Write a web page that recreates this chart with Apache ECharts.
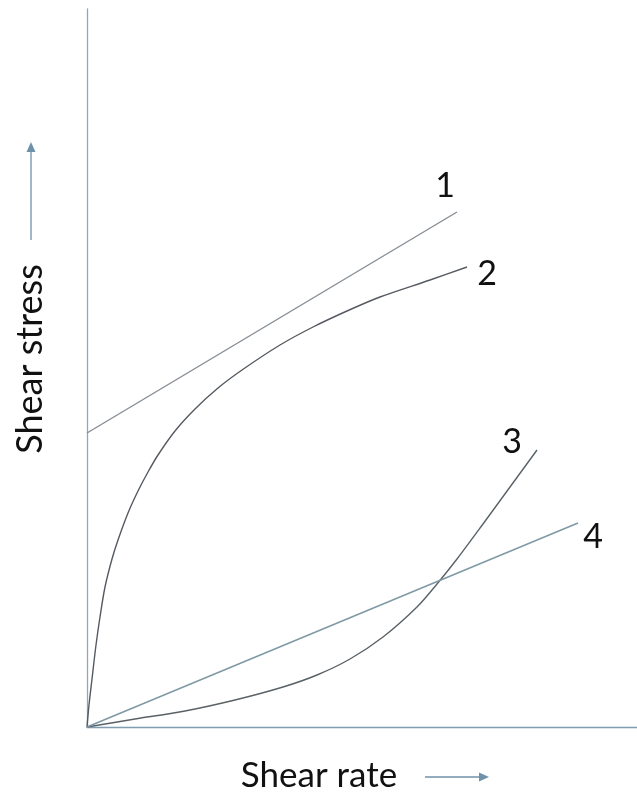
<!DOCTYPE html>
<html>
<head>
<meta charset="utf-8">
<script src="https://cdn.jsdelivr.net/npm/echarts@6/dist/echarts.min.js"></script>
<style>html,body{margin:0;padding:0;background:#fff}#c{width:637px;height:796px}</style>
</head>
<body>
<div id="c"></div>
<script>
// Values (arbitrary units: shear rate vs shear stress)
var line1 = [[0, 294], [370, 515]];
var curve2 = [[0,0],[2,22],[5,48],[9,82],[13,110],[18,140],[25,168],[31,187],[41,214],[51,236],[61,255],[71,272],[88,296],[108,318],[131,339],[155,357],[193,382],[226,400],[260,416],[293,430],[343,447],[380,460]];
var curve3 = [[0,0],[48,8],[98,16],[148,27],[196,40],[230,52],[263,68],[296,90],[330,120],[350,143],[370,168],[396,203],[423,240],[450,277]];
var line4 = [[0,0],[491,204]];
var curveNames = ['1', '2', '3', '4'];

var chart = echarts.init(document.getElementById('c'));
var FONT = 'Lato';
function mk(name, data, color, smooth) {
  return {
    name: name, type: 'line', data: data, smooth: smooth, symbol: 'none',
    lineStyle: { color: color, width: 1.4 }, silent: true, animation: false
  };
}
chart.setOption({
  animation: false,
  grid: { left: 87, top: 9, right: 0, bottom: 69 },
  xAxis: {
    type: 'value', min: 0, max: 550,
    axisLine: { show: true, lineStyle: { color: '#7f9db0', width: 1.3 } },
    axisTick: { show: false }, axisLabel: { show: false }, splitLine: { show: false }
  },
  yAxis: {
    type: 'value', min: 0, max: 718,
    axisLine: { show: true, lineStyle: { color: '#8fa7b6', width: 1.3 } },
    axisTick: { show: false }, axisLabel: { show: false }, splitLine: { show: false }
  },
  series: [
    mk(curveNames[0], line1, '#868d95', false),
    mk(curveNames[1], curve2, '#555a61', 0.3),
    mk(curveNames[2], curve3, '#5a6267', 0.3),
    mk(curveNames[3], line4, '#7e98a4', false)
  ],
  graphic: [
    { type: 'text', x: 445, y: 186, style: { text: curveNames[0], font: '34px ' + FONT, fill: '#111', align: 'center', verticalAlign: 'middle' } },
    { type: 'text', x: 487, y: 274, style: { text: curveNames[1], font: '34px ' + FONT, fill: '#111', align: 'center', verticalAlign: 'middle' } },
    { type: 'text', x: 512, y: 442, style: { text: curveNames[2], font: '34px ' + FONT, fill: '#111', align: 'center', verticalAlign: 'middle' } },
    { type: 'text', x: 593, y: 537, style: { text: curveNames[3], font: '34px ' + FONT, fill: '#111', align: 'center', verticalAlign: 'middle' } },
    { type: 'text', x: 319, y: 776, style: { text: 'Shear rate', font: '35px ' + FONT, fill: '#111', align: 'center', verticalAlign: 'middle' } },
    { type: 'text', x: 30, y: 359, rotation: Math.PI / 2, style: { text: 'Shear stress', font: '36px ' + FONT, fill: '#111', align: 'center', verticalAlign: 'middle' } },
    { type: 'line', shape: { x1: 425, y1: 777, x2: 481, y2: 777 }, style: { stroke: '#6f92aa', lineWidth: 1.3 } },
    { type: 'polygon', shape: { points: [[489, 777], [479, 772.5], [479, 781.5]] }, style: { fill: '#6f92aa' } },
    { type: 'line', shape: { x1: 31, y1: 240, x2: 31, y2: 150 }, style: { stroke: '#6f92aa', lineWidth: 1.3 } },
    { type: 'polygon', shape: { points: [[31, 142], [26.5, 152], [35.5, 152]] }, style: { fill: '#6f92aa' } }
  ]
});
</script>
</body>
</html>
